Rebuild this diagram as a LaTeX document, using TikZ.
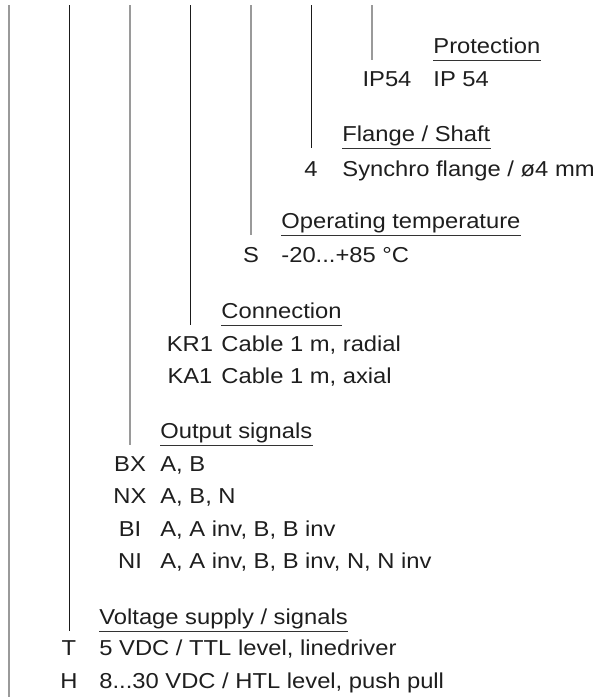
\documentclass[tikz,border=0pt]{standalone}
\usepackage{fontspec}
\setmainfont{Liberation Sans}[FakeStretch=1.1]
\definecolor{schrift}{HTML}{1E1E1E}
\definecolor{strichgrau}{HTML}{9A9A9A}
\definecolor{strichdunkel}{HTML}{1A1A1A}
\definecolor{linie}{HTML}{333333}

\begin{document}
\begin{tikzpicture}[x=0.5pt,y=-0.5pt,
    every node/.style={inner sep=0pt,text=schrift,font=\fontsize{10.8}{13}\selectfont},
    desc/.style={anchor=base west},
    code/.style={anchor=base},
    uline/.style={linie,line width=0.5pt},
    gline/.style={strichgrau,line width=0.75pt},
    kline/.style={strichdunkel,line width=0.5pt}]
  \useasboundingbox (0,0) rectangle (598,697);
  % protection
  \node[desc] (prot) at (433,53) {Protection};
  \coordinate (prot-ul) at ([yshift=-3.5pt]prot.base west);
  \draw[uline] (prot-ul) -- ([yshift=-3.5pt]prot.base east);
  \node[code] (ip54) at (387,86) {IP54};
  \node[desc] (ip54-d) at (433,86) {IP 54};
  % flange / shaft
  \node[desc] (flan) at (342,141) {Flange / Shaft};
  \coordinate (flan-ul) at ([yshift=-3.5pt]flan.base west);
  \draw[uline] (flan-ul) -- ([yshift=-3.5pt]flan.base east);
  \node[code] (f4) at (311,176) {4};
  \node[desc] (f4-d) at (342,176) {Synchro flange / ø4 mm};
  % operating temperature
  \node[desc] (temp) at (281,228) {Operating temperature};
  \coordinate (temp-ul) at ([yshift=-3.5pt]temp.base west);
  \draw[uline] (temp-ul) -- ([yshift=-3.5pt]temp.base east);
  \node[code] (ts) at (251,262) {S};
  \node[desc] (ts-d) at (281,262) {-20...+85 °C};
  % connection
  \node[desc] (conn) at (221,318) {Connection};
  \coordinate (conn-ul) at ([yshift=-3.5pt]conn.base west);
  \draw[uline] (conn-ul) -- ([yshift=-3.5pt]conn.base east);
  \node[code] (kr1) at (190,351) {KR1};
  \node[desc] (kr1-d) at (221,351) {Cable 1 m, radial};
  \node[code] (ka1) at (190,383) {KA1};
  \node[desc] (ka1-d) at (221,383) {Cable 1 m, axial};
  % output signals
  \node[desc] (outp) at (160,438) {Output signals};
  \coordinate (outp-ul) at ([yshift=-3.5pt]outp.base west);
  \draw[uline] (outp-ul) -- ([yshift=-3.5pt]outp.base east);
  \node[code] (bx) at (130,471) {BX};
  \node[desc] (bx-d) at (160,471) {A, B};
  \node[code] (nx) at (130,503) {NX};
  \node[desc] (nx-d) at (160,503) {A, B, N};
  \node[code] (bi) at (130,536) {BI};
  \node[desc] (bi-d) at (160,536) {A, A inv, B, B inv};
  \node[code] (ni) at (130,568) {NI};
  \node[desc] (ni-d) at (160,568) {A, A inv, B, B inv, N, N inv};
  % voltage supply
  \node[desc] (volt) at (99,624) {Voltage supply / signals};
  \coordinate (volt-ul) at ([yshift=-3.5pt]volt.base west);
  \draw[uline] (volt-ul) -- ([yshift=-3.5pt]volt.base east);
  \node[code] (vt) at (69,655) {T};
  \node[desc] (vt-d) at (99,655) {5 VDC / TTL level, linedriver};
  \node[code] (vh) at (69,688) {H};
  \node[desc] (vh-d) at (99,688) {8...30 VDC / HTL level, push pull};
  % vertical lines
  \coordinate (top1) at (9,5);
  \coordinate (bot1) at (9,697);
  \coordinate (top2) at (69,5);
  \coordinate (top3) at (130,5);
  \coordinate (top4) at (190,5);
  \coordinate (top5) at (251,5);
  \coordinate (top6) at (311,5);
  \coordinate (top7) at (372,5);
  \draw[gline] (top1) -- (bot1);
  \draw[kline] (top2) -- (top2 |- volt-ul);
  \draw[gline] (top3) -- (top3 |- outp-ul);
  \draw[kline] (top4) -- (top4 |- conn-ul);
  \draw[gline] (top5) -- (top5 |- temp-ul);
  \draw[kline] (top6) -- (top6 |- flan-ul);
  \draw[gline] (top7) -- (top7 |- prot-ul);
\end{tikzpicture}
\end{document}
